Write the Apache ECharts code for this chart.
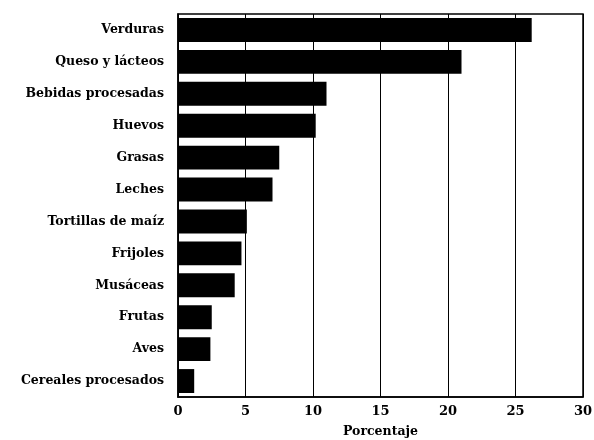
<!DOCTYPE html>
<html>
<head>
<meta charset="utf-8">
<script src="https://cdn.jsdelivr.net/npm/echarts@6/dist/echarts.min.js"></script>
<style>
  html, body { margin: 0; padding: 0; background: #fff; }
  #chart { width: 594px; height: 440px; }
</style>
</head>
<body>
<div id="chart"></div>
<script>
// categorías (de arriba hacia abajo)
const categorias = ['Verduras', 'Queso y lácteos', 'Bebidas procesadas', 'Huevos', 'Grasas', 'Leches',
  'Tortillas de maíz', 'Frijoles', 'Musáceas', 'Frutas', 'Aves', 'Cereales procesados'];
const porcentajes = [26.2, 21.0, 11.0, 10.2, 7.5, 7.0, 5.1, 4.7, 4.2, 2.5, 2.4, 1.2];
const ticksX = [0, 5, 10, 15, 20, 25, 30];

const fuente = 'DejaVu Serif';
const chart = echarts.init(document.getElementById('chart'));
const option = {
  animation: false,
  backgroundColor: '#fff',
  grid: {
    left: 178, right: 11, top: 14, bottom: 43,
    outerBoundsMode: 'none', containLabel: false,
    show: true, borderColor: '#000', borderWidth: 1.5
  },
  xAxis: {
    type: 'value',
    min: ticksX[0],
    max: ticksX[ticksX.length - 1],
    interval: 5,
    name: 'Porcentaje',
    nameLocation: 'middle',
    nameGap: 28,
    nameTextStyle: { fontFamily: fuente, fontWeight: 'bold', fontSize: 12.5, color: '#000' },
    axisLine: { show: true, lineStyle: { color: '#000', width: 1.5 } },
    axisTick: { show: false },
    axisLabel: { fontFamily: fuente, fontWeight: 'bold', fontSize: 13, color: '#000', margin: 8 },
    splitLine: { show: true, lineStyle: { color: '#000', width: 1 } }
  },
  yAxis: {
    type: 'category',
    data: categorias,
    inverse: true,
    axisLine: { show: true, lineStyle: { color: '#000', width: 1.5 } },
    axisTick: { show: false },
    axisLabel: { fontFamily: fuente, fontWeight: 'bold', fontSize: 12.5, color: '#000', margin: 14 }
  },
  series: [{
    type: 'bar',
    data: porcentajes,
    barWidth: '75%',
    itemStyle: { color: '#000' }
  }]
};
chart.setOption(option);
</script>
</body>
</html>
